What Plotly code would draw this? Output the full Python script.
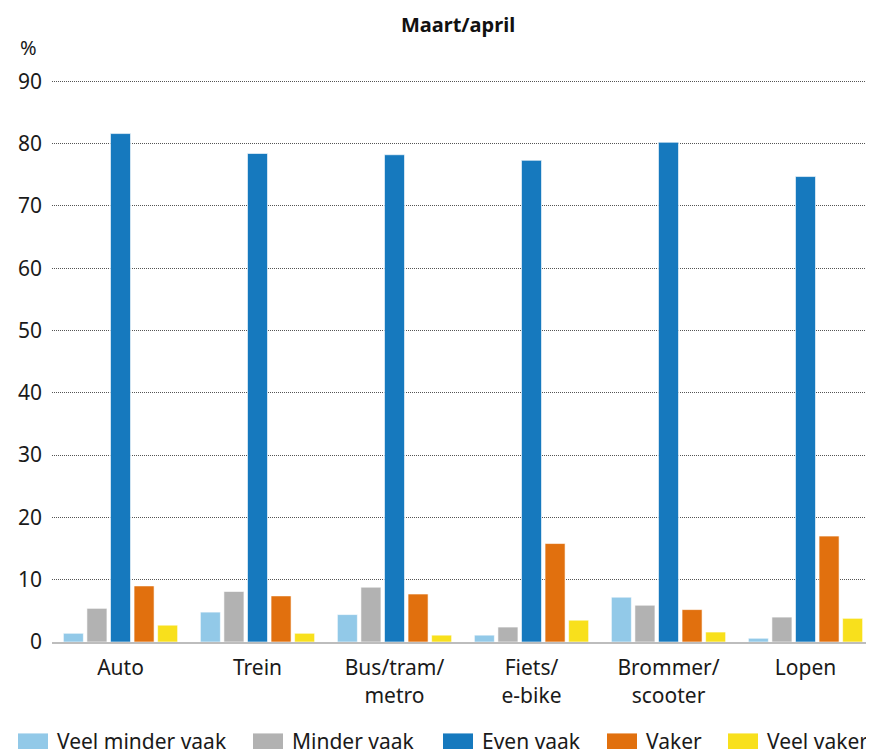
import plotly.graph_objects as go

categories = ["Auto", "Trein", "Bus/tram/<br>metro", "Fiets/<br>e-bike", "Brommer/<br>scooter", "Lopen"]
series_names = ["Veel minder vaak", "Minder vaak", "Even vaak", "Vaker", "Veel vaker"]
veel_minder_vaak = [1.4, 4.8, 4.4, 1.1, 7.2, 0.6]
minder_vaak = [5.4, 8.1, 8.8, 2.4, 5.9, 4.0]
even_vaak = [81.6, 78.4, 78.2, 77.3, 80.2, 74.7]
vaker = [9.0, 7.4, 7.7, 15.8, 5.2, 17.0]
veel_vaker = [2.7, 1.4, 1.1, 3.5, 1.6, 3.8]
series_values = [veel_minder_vaak, minder_vaak, even_vaak, vaker, veel_vaker]
colors = ["#92C9E8", "#B2B2B2", "#1679BE", "#E1700E", "#F8E01C"]
y_ticks = [0, 10, 20, 30, 40, 50, 60, 70, 80, 90]

FONT = "Noto Sans"
OFF = 8  # page body margin
W, H = 874 - OFF, 749 - OFF
YMAX = 91
UNIT = (641.6 - 81) / 90          # pixels per percent in the reference
PL, PB = 52, 641.6                # plot area edges in screen pixels
PT = PB - YMAX * UNIT
L, R, T, B = PL - OFF, 0, PT - OFF, H - (PB - OFF)
pw = W - L - R
ph = H - T - B


def px(sx):
    return (sx - PL) / pw


def py(sy):
    return (PB - sy) / ph


fig = go.Figure()
for name, vals, col in zip(series_names, series_values, colors):
    fig.add_trace(go.Bar(
        x=categories, y=vals, name=name,
        marker=dict(color=col, line=dict(color="rgba(255,255,255,0.6)", width=1)),
        showlegend=False,
    ))

fig.update_layout(
    width=W, height=H,
    margin=dict(l=L, r=R, t=T, b=B),
    paper_bgcolor="white", plot_bgcolor="white",
    barmode="group", bargap=0.14, bargroupgap=0.15,
    font=dict(family=FONT, size=21, color="#1a1a1a"),
    title=dict(text="<b>Maart/april</b>", x=(458 - OFF) / W, xanchor="center",
               y=1 - (25 - OFF) / H, yanchor="middle",
               font=dict(family=FONT, size=20, color="#111")),
    xaxis=dict(showgrid=False, showline=True, linecolor="#BDBDBD", linewidth=2,
               ticks="", ticklabelstandoff=6, tickfont=dict(size=21, color="#1a1a1a")),
    yaxis=dict(range=[0, YMAX], tickvals=y_ticks, showgrid=True,
               gridcolor="#555", griddash="1px,1px", gridwidth=1,
               zeroline=False, showline=False, ticks="", ticklabelstandoff=9,
               tickfont=dict(size=21, color="#1a1a1a")),
)

fig.add_annotation(text="%", xref="paper", yref="paper",
                   x=px(28), y=py(47),
                   xanchor="center", yanchor="middle", showarrow=False,
                   font=dict(size=20, color="#1a1a1a"))

# manual legend at bottom
swatch_x = [18, 253, 443, 607, 728]
for sx, name, col in zip(swatch_x, series_names, colors):
    fig.add_shape(type="rect", xref="paper", yref="paper",
                  x0=px(sx), x1=px(sx + 30),
                  y0=py(755), y1=py(733),
                  fillcolor=col, line=dict(width=0))
    fig.add_annotation(text=name, xref="paper", yref="paper",
                       x=px(sx + 37), y=py(741),
                       xanchor="left", yanchor="middle", showarrow=False,
                       font=dict(size=21, color="#1a1a1a"))

fig.write_html("out.html")
